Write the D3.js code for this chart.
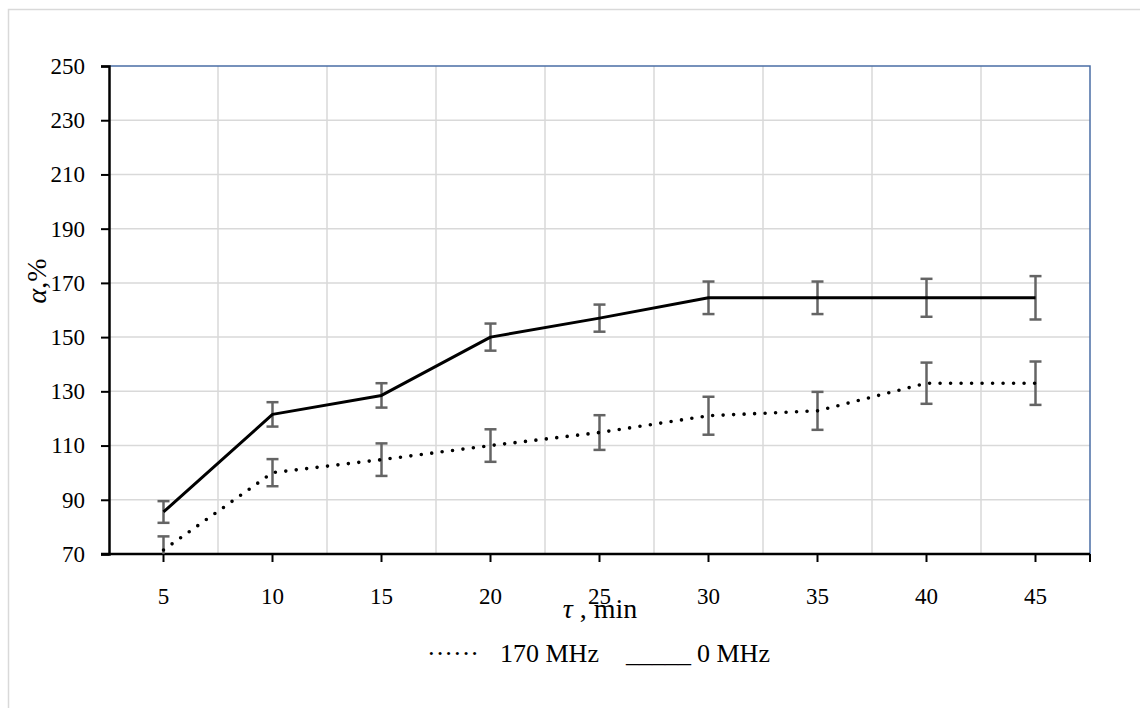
<!DOCTYPE html>
<html>
<head>
<meta charset="utf-8">
<script src="https://cdn.jsdelivr.net/npm/d3@7"></script>
<style>
  html, body { margin: 0; padding: 0; background: #fff; }
  svg, svg text { font-family: 'Liberation Serif', 'DejaVu Serif', serif !important; }
</style>
</head>
<body>
<svg id="chart" width="1140" height="708"></svg>
<script>
// time, min
const times = [5, 10, 15, 20, 25, 30, 35, 40, 45];
// 0 MHz (solid line)
const alpha0 = [85.5, 121.5, 128.5, 150, 157, 164.5, 164.5, 164.5, 164.5];
const err0 = [4, 4.5, 4.5, 5, 5, 6, 6, 7, 8];
// 170 MHz (dotted line)
const alpha170 = [71.5, 100, 104.8, 110, 114.8, 121, 122.8, 133, 133];
const err170 = [5, 5, 6, 6, 6.4, 7, 7, 7.6, 8];
const yTicks = [70, 90, 110, 130, 150, 170, 190, 210, 230, 250];

const SERIF = "'Liberation Serif', 'DejaVu Serif', serif";

function drawChart() {
  let svg = d3.select('#chart'),
    left = 109,
    right = 1090,
    top = 66,
    bottom = 554;

  // outer chart frame
  svg.append('rect')
    .attr('x', 8.5).attr('y', 9.5)
    .attr('width', 1200).attr('height', 800)
    .attr('fill', 'none')
    .attr('stroke', '#d9d9d9')
    .attr('stroke-width', 1.5);

  let x = d3.scaleBand().domain(times).range([left, right]).padding(0),
    y = d3.scaleLinear().domain([70, 250]).range([bottom, top]),
    cx = t => x(t) + x.bandwidth() / 2;

  // grid
  svg.append('g')
    .selectAll('line')
    .data(yTicks.slice(1, -1))
    .enter().append('line')
    .attr('x1', left).attr('x2', right)
    .attr('y1', d => y(d)).attr('y2', d => y(d))
    .attr('stroke', '#d9d9d9').attr('stroke-width', 1.5);
  svg.append('g')
    .selectAll('line')
    .data(times.slice(1))
    .enter().append('line')
    .attr('x1', d => x(d)).attr('x2', d => x(d))
    .attr('y1', top).attr('y2', bottom)
    .attr('stroke', '#d9d9d9').attr('stroke-width', 1.5);

  // blue top/right border of plot area
  svg.append('path')
    .attr('d', `M${left},${top}H${right}V${bottom}`)
    .attr('fill', 'none')
    .attr('stroke', '#4a6ea5')
    .attr('stroke-width', 1.5);

  // y axis
  let yAxis = svg.append('g')
    .attr('transform', `translate(${left},0)`)
    .call(d3.axisLeft(y).tickValues(yTicks).tickSize(8).tickPadding(16).tickFormat(d3.format('d')));
  yAxis.attr('font-family', null);
  yAxis.select('.domain').attr('stroke', '#000').attr('stroke-width', 2.5);
  yAxis.selectAll('.tick line').attr('stroke', '#000').attr('stroke-width', 2);
  yAxis.selectAll('.tick text')
    .style('font-family', SERIF)
    .attr('font-size', 23)
    .attr('fill', '#000');

  // x axis
  let xAxis = svg.append('g')
    .attr('transform', `translate(0,${bottom})`)
    .call(d3.axisBottom(x).tickSize(8).tickPadding(26).tickSizeOuter(0));
  xAxis.attr('font-family', null);
  xAxis.select('.domain').remove();
  xAxis.append('line')
    .attr('x1', left - 8).attr('x2', right)
    .attr('stroke', '#000').attr('stroke-width', 2.5);
  xAxis.append('line')
    .attr('x1', right).attr('x2', right).attr('y1', 0).attr('y2', 8)
    .attr('stroke', '#000').attr('stroke-width', 2);
  xAxis.selectAll('.tick line').attr('stroke', '#000').attr('stroke-width', 2);
  xAxis.selectAll('.tick text')
    .style('font-family', SERIF)
    .attr('font-size', 23)
    .attr('fill', '#000');

  // error bars, clipped to the plot area
  svg.append('clipPath').attr('id', 'plotClip')
    .append('rect')
    .attr('x', left).attr('y', top)
    .attr('width', right - left).attr('height', bottom - top);

  let bars = svg.append('g').attr('clip-path', 'url(#plotClip)');
  function errorBars(vals, errs) {
    let g = bars.append('g')
      .selectAll('g')
      .data(times.map((t, i) => ({ t: t, v: vals[i], e: errs[i] })))
      .enter().append('g')
      .attr('stroke', '#646464')
      .attr('stroke-width', 2.5);
    g.append('line')
      .attr('x1', d => cx(d.t)).attr('x2', d => cx(d.t))
      .attr('y1', d => y(d.v - d.e)).attr('y2', d => y(d.v + d.e));
    g.append('line')
      .attr('x1', d => cx(d.t) - 6).attr('x2', d => cx(d.t) + 6)
      .attr('y1', d => y(d.v + d.e)).attr('y2', d => y(d.v + d.e));
    g.append('line')
      .attr('x1', d => cx(d.t) - 6).attr('x2', d => cx(d.t) + 6)
      .attr('y1', d => y(d.v - d.e)).attr('y2', d => y(d.v - d.e));
  }
  errorBars(alpha0, err0);
  errorBars(alpha170, err170);

  let line = d3.line()
    .x(d => cx(d[0]))
    .y(d => y(d[1]));

  svg.append('path')
    .datum(times.map((t, i) => [t, alpha0[i]]))
    .attr('d', line)
    .attr('fill', 'none')
    .attr('stroke', '#000')
    .attr('stroke-width', 3)
    .attr('stroke-linejoin', 'round');

  svg.append('path')
    .datum(times.map((t, i) => [t, alpha170[i]]))
    .attr('d', line)
    .attr('fill', 'none')
    .attr('stroke', '#000')
    .attr('stroke-width', 3.6)
    .attr('stroke-linecap', 'round')
    .attr('stroke-dasharray', '0 10.5');

  // axis titles
  let yTitle = svg.append('text')
    .attr('transform', 'translate(46,281) rotate(-90)')
    .attr('text-anchor', 'middle')
    .style('font-family', SERIF)
    .attr('font-size', 28)
    .attr('fill', '#000');
  yTitle.append('tspan').attr('font-style', 'italic').text('α');
  yTitle.append('tspan').text(',%');

  let xTitle = svg.append('text')
    .attr('x', 600).attr('y', 618)
    .attr('text-anchor', 'middle')
    .style('font-family', SERIF)
    .attr('font-size', 28)
    .attr('fill', '#000');
  xTitle.append('tspan').attr('font-style', 'italic').text('τ');
  xTitle.append('tspan').text(' , min');

  // legend written as text, the way the source did it
  let legend = [
    { x: 427, s: '······' },
    { x: 500, s: '170 MHz' },
    { x: 626, s: '_____' },
    { x: 697, s: '0 MHz' }
  ];
  svg.append('g')
    .selectAll('text')
    .data(legend)
    .enter().append('text')
    .attr('x', d => d.x).attr('y', 662)
    .style('font-family', SERIF)
    .attr('font-size', 26)
    .attr('fill', '#000')
    .text(d => d.s);
}

drawChart();
</script>
</body>
</html>
